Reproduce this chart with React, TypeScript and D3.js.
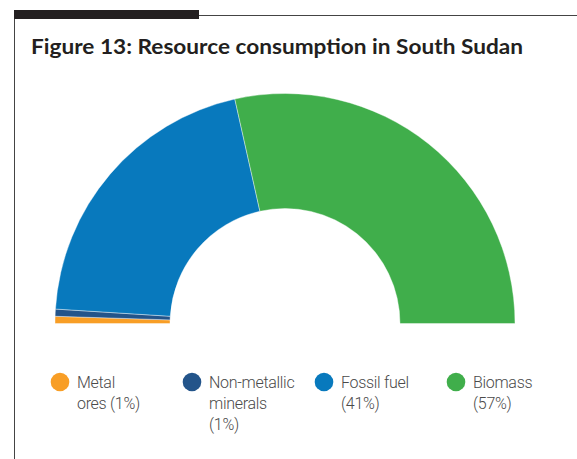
import React from "react";
import * as d3 from "d3";

const categories = ["Metal ores", "Non-metallic minerals", "Fossil fuel", "Biomass"];
const values = [1, 1, 41, 57];
const colors = ["#F89E26", "#23548A", "#0879BD", "#40AE4B"];
const legendLines = [
  ["Metal", "ores (1%)"],
  ["Non-metallic", "minerals", "(1%)"],
  ["Fossil fuel", "(41%)"],
  ["Biomass", "(57%)"],
];
const title = "Figure 13: Resource consumption in South Sudan";

export default function App() {
  const W = 577, H = 459;
  const cx = 285, cy = 323.5, rOuter = 230, rInner = 115;
  const pie = d3.pie<number>().sort(null).startAngle(-Math.PI / 2).endAngle(Math.PI / 2);
  const arcs = pie(values);
  const arc = d3.arc<d3.PieArcDatum<number>>().innerRadius(rInner).outerRadius(rOuter);
  const legendX = d3.scalePoint<string>().domain(categories).range([60, 456]);
  return (
    <svg width={W} height={H} style={{ position: "absolute", left: 0, top: 0 }}>
      <rect x={0} y={0} width={W} height={H} fill="#fff" />
      <rect x={14} y={10} width={185} height={9} fill="#231f20" />
      <line x1={199} x2={W} y1={15.5} y2={15.5} stroke="#444" strokeWidth={1} />
      <line x1={14.5} x2={14.5} y1={19} y2={H} stroke="#444" strokeWidth={1} />
      <text x={31} y={54} fontFamily="Lato, sans-serif" fontWeight={700} fontSize={21} fill="#231f20" textLength={492} lengthAdjust="spacingAndGlyphs">
        {title}
      </text>
      <g transform={`translate(${cx},${cy})`}>
        {arcs.map((a, i) => (
          <path key={categories[i]} d={arc(a) || ""} fill={colors[i]} stroke="#fff" strokeWidth={0.4} />
        ))}
      </g>
      {categories.map((c, i) => {
        const x = legendX(c) as number;
        return (
          <g key={c}>
            <circle cx={x} cy={382} r={9.3} fill={colors[i]} />
            <text x={x + 17} y={388} fontFamily="Roboto, sans-serif" fontWeight={300} fontSize={16} fill="#4a4a4a" letterSpacing={-0.3}>
              {legendLines[i].map((l, j) => (
                <tspan key={j} x={x + 17} dy={j === 0 ? 0 : 21}>{l}</tspan>
              ))}
            </text>
          </g>
        );
      })}
    </svg>
  );
}
